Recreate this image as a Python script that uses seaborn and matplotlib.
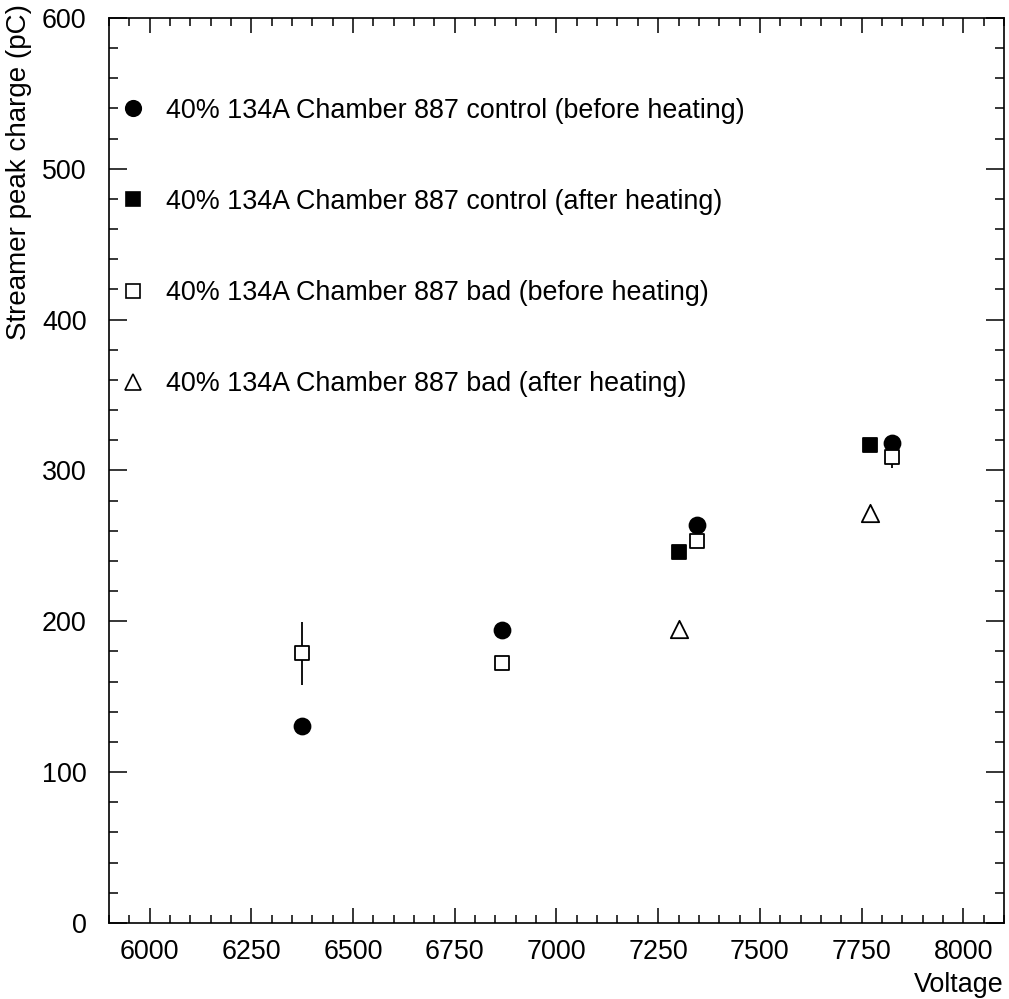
import matplotlib
matplotlib.use("Agg")
import matplotlib.pyplot as plt
from matplotlib.lines import Line2D
from matplotlib.ticker import MultipleLocator
import numpy as np
import pandas as pd
import seaborn as sns

# Streamer peak charge measurements, chamber 887, 40% 134A gas mixture
ctrl_before_v = [6375, 6865, 7345, 7825]
ctrl_before_q = [130.6, 194.3, 263.9, 318.5]

ctrl_after_v = [7300, 7770]
ctrl_after_q = [246.2, 317.0]

bad_before_v = [6375, 6865, 7345, 7825]
bad_before_q = [178.8, 172.2, 252.9, 308.8]
bad_before_err = [21.0, 3.0, 3.0, 7.3]

bad_after_v = [7300, 7770]
bad_after_q = [194.8, 271.7]

labels = [
    "40% 134A Chamber 887 control (before heating)",
    "40% 134A Chamber 887 control (after heating)",
    "40% 134A Chamber 887 bad (before heating)",
    "40% 134A Chamber 887 bad (after heating)",
]

sns.set_style("ticks")
plt.rcParams["font.family"] = ["Liberation Sans", "DejaVu Sans"]

FS = 19.4

fig = plt.figure(figsize=(10.09, 9.99), dpi=100)
ax = fig.add_axes([0.108, 0.0761, 0.887, 0.906])

series = [
    (ctrl_before_v, ctrl_before_q, "o", "black", "black", 11.5),
    (ctrl_after_v, ctrl_after_q, "s", "black", "black", 10.5),
    (bad_before_v, bad_before_q, "s", "white", "black", 10.5),
    (bad_after_v, bad_after_q, "^", "white", "black", 12.5),
]

# error bars sit beneath the open-square markers
ax.errorbar(bad_before_v, bad_before_q, yerr=bad_before_err, fmt="none",
            ecolor="black", elinewidth=1.3, capsize=0, zorder=2)

handles = []
for (v, q, m, fc, ec, ms), lab in zip(series, labels):
    df = pd.DataFrame({"Voltage": v, "Charge": q})
    sns.scatterplot(data=df, x="Voltage", y="Charge", ax=ax, marker=m,
                    s=ms ** 2, facecolor=fc, edgecolor=ec, linewidth=1.3,
                    zorder=3, legend=False)
    handles.append(Line2D([], [], linestyle="none", marker=m,
                          markersize=ms * 0.97, markerfacecolor=fc,
                          markeredgecolor=ec, markeredgewidth=1.2))

ax.set_xlim(5900, 8100)
ax.set_ylim(0, 600)
ax.xaxis.set_major_locator(MultipleLocator(250))
ax.xaxis.set_minor_locator(MultipleLocator(50))
ax.yaxis.set_major_locator(MultipleLocator(100))
ax.yaxis.set_minor_locator(MultipleLocator(20))

for side in ["top", "right", "bottom", "left"]:
    ax.spines[side].set_visible(True)
    ax.spines[side].set_linewidth(1.2)
    ax.spines[side].set_color("black")

ax.tick_params(which="both", direction="in", top=True, right=True,
               color="black", width=1.1, labelcolor="black")
ax.tick_params(axis="x", which="major", length=11, labelsize=FS, pad=11.5)
ax.tick_params(axis="x", which="minor", length=5.5)
ax.tick_params(axis="y", which="major", length=13, labelsize=FS, pad=16)
ax.tick_params(axis="y", which="minor", length=6.5)

ax.set_xlabel("Voltage", fontsize=FS, loc="right", color="black")
ax.xaxis.set_label_coords(1.0, -0.054)
ax.set_ylabel("Streamer peak charge (pC)", fontsize=20, loc="top",
              color="black")
ax.yaxis.set_label_coords(-0.086, 1.015)

leg = ax.legend(handles, labels, loc="upper left",
                bbox_to_anchor=(0.012, 0.912), frameon=False,
                fontsize=FS, handlelength=1.0, handletextpad=0.7,
                labelspacing=2.42, borderaxespad=0, borderpad=0)
for t in leg.get_texts():
    t.set_color("black")

fig.savefig("out.png", dpi=100)
